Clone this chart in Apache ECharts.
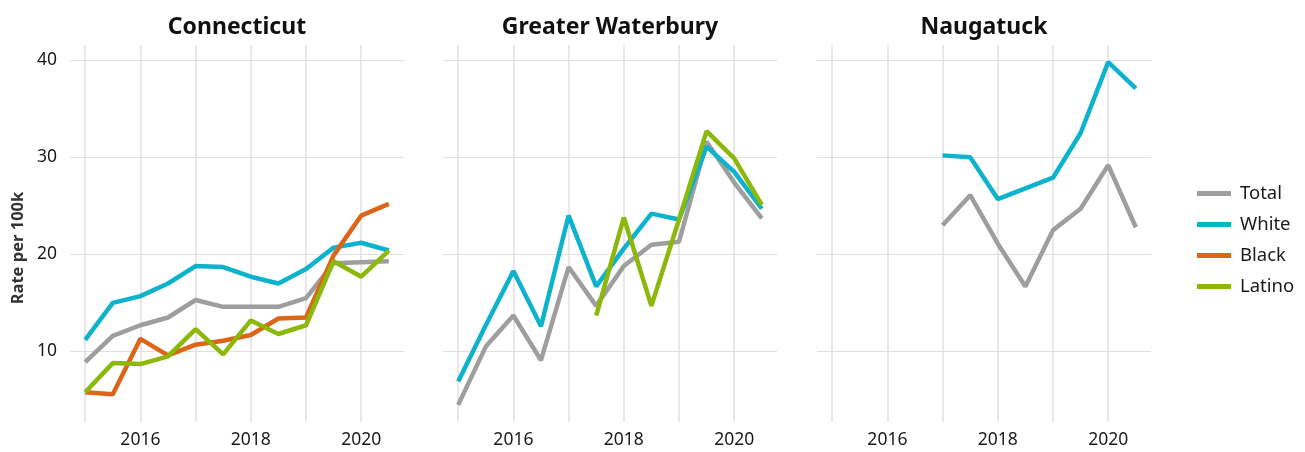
<!DOCTYPE html>
<html>
<head>
<meta charset="utf-8">
<script src="https://cdn.jsdelivr.net/npm/echarts@6/dist/echarts.min.js"></script>
<style>
  html, body { margin:0; padding:0; background:#fff; }
  #main { width:1305px; height:452px; }
</style>
</head>
<body>
<div id="main"></div>
<script>
// half-year steps
var years = [2015, 2015.5, 2016, 2016.5, 2017, 2017.5, 2018, 2018.5, 2019, 2019.5, 2020, 2020.5];
var panels = ['Connecticut', 'Greater Waterbury', 'Naugatuck'];
var groups = ['Total', 'White', 'Black', 'Latino'];
var colors = ['#9e9e9e', '#0db2cc', '#dc6517', '#8bb80b'];
var xTicks = [2015, 2016, 2017, 2018, 2019, 2020];
var xLabels = [2016, 2018, 2020];
var yTicks = [10, 20, 30, 40];

// Connecticut
var ctTotal  = [8.9, 11.6, 12.7, 13.5, 15.3, 14.6, 14.6, 14.6, 15.5, 19.1, 19.2, 19.3];
var ctWhite  = [11.2, 15.0, 15.7, 17.0, 18.8, 18.7, 17.7, 17.0, 18.5, 20.7, 21.2, 20.4];
var ctBlack  = [5.8, 5.6, 11.3, 9.6, 10.7, 11.1, 11.7, 13.4, 13.5, 19.9, 24.0, 25.2];
var ctLatino = [5.8, 8.8, 8.7, 9.5, 12.3, 9.7, 13.2, 11.8, 12.7, 19.3, 17.7, 20.4];

// Greater Waterbury
var gwTotal  = [4.5, 10.5, 13.7, 9.1, 18.7, 14.7, 18.8, 21.0, 21.3, 31.6, 27.4, 23.7];
var gwWhite  = [6.9, 12.7, 18.3, 12.6, 24.0, 16.7, 20.6, 24.2, 23.6, 31.1, 28.5, 24.7];
var gwBlack  = [null, null, null, null, null, null, null, null, null, null, null, null];
var gwLatino = [null, null, null, null, null, 13.7, 23.8, 14.7, 23.6, 32.7, 29.9, 25.1];

// Naugatuck
var naTotal  = [null, null, null, null, 23.0, 26.1, 21.1, 16.7, 22.5, 24.7, 29.2, 22.8];
var naWhite  = [null, null, null, null, 30.2, 30.0, 25.7, 26.8, 27.9, 32.5, 39.8, 37.1];
var naBlack  = [null, null, null, null, null, null, null, null, null, null, null, null];
var naLatino = [null, null, null, null, null, null, null, null, null, null, null, null];

var panelData = [
  [ctTotal, ctWhite, ctBlack, ctLatino],
  [gwTotal, gwWhite, gwBlack, gwLatino],
  [naTotal, naWhite, naBlack, naLatino]
];

var FONT = '"Noto Sans"';
var chart = echarts.init(document.getElementById('main'), null, {renderer:'canvas'});

var gridLefts = [70, 443, 817];
var gridW = 334;
var grids = [], xAxes = [], yAxes = [], titles = [], series = [];

gridLefts.forEach(function(left, i){
  grids.push({left:left, top:45, width:gridW, height:377});
  xAxes.push({
    type:'value', gridIndex:i, min:2014.725, max:2020.775,
    axisLine:{show:false},
    axisTick:{show:false, customValues:xTicks},
    axisLabel:{customValues:xLabels, color:'#1a1a1a', fontFamily:FONT, fontSize:17.5, margin:9,
      formatter:function(v){ return String(v); }},
    splitLine:{show:true, lineStyle:{color:'#e0e0e0', width:1.5}}
  });
  yAxes.push({
    type:'value', gridIndex:i, min:2.735, max:41.57,
    axisLine:{show:false},
    axisTick:{show:false, customValues:yTicks},
    axisLabel:{show:i===0, customValues:yTicks, color:'#1a1a1a', fontFamily:FONT, fontSize:17.5, margin:13},
    splitLine:{show:true, lineStyle:{color:'#e0e0e0', width:1.2}}
  });
  // title box has 5px padding, so pull back to keep text centred on the panel
  titles.push({
    text:panels[i], left:left + gridW/2 - 5, top:11, textAlign:'center',
    textStyle:{fontFamily:FONT, fontWeight:'bold', fontSize:23, color:'#111'}
  });
  groups.forEach(function(g, k){
    var vals = panelData[i][k];
    series.push({
      name:g, type:'line', xAxisIndex:i, yAxisIndex:i,
      data: years.map(function(y, j){ return [y, vals[j]]; }),
      showSymbol:false, symbol:'none', connectNulls:false,
      lineStyle:{color:colors[k], width:4.5},
      itemStyle:{color:colors[k]},
      emphasis:{disabled:true}, animation:false
    });
  });
});

chart.setOption({
  backgroundColor:'#fff',
  animation:false,
  title:titles,
  grid:grids,
  xAxis:xAxes,
  yAxis:yAxes,
  legend:{
    data:groups, orient:'vertical', left:1197, top:184, padding:0,
    icon:'rect', itemWidth:34, itemHeight:5, itemGap:12,
    textStyle:{fontFamily:FONT, fontSize:18.5, color:'#1a1a1a', padding:[0,0,0,4]}
  },
  graphic:[{
    type:'text', x:18, y:248, rotation:Math.PI/2,
    style:{text:'Rate per 100k', fontFamily:FONT, fontWeight:'bold', fontSize:16.5,
      fill:'#333', align:'center', verticalAlign:'middle'}
  }],
  series:series
});
</script>
</body>
</html>
